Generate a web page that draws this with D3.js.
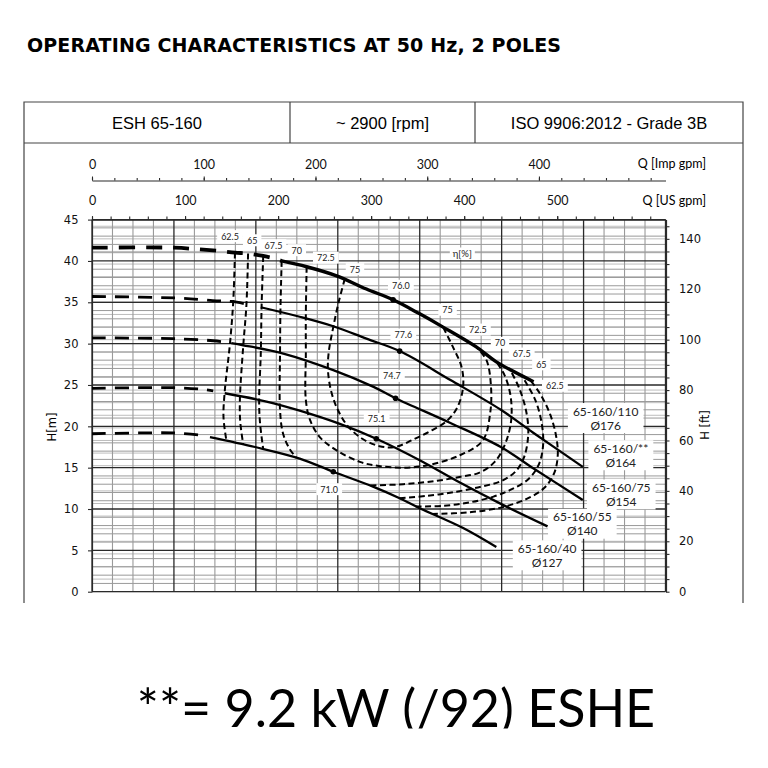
<!DOCTYPE html>
<html>
<head>
<meta charset="utf-8">
<script src="https://cdn.jsdelivr.net/npm/d3@7"></script>
<style>
  body { margin: 0; background: #fff; }
  svg { display: block; }
</style>
</head>
<body>
<script>
// H-Q curves, Q in m3/h, H in m
const hq176Dash = [[0, 41.6], [20, 41.6], [26.3, 41.4], [31.2, 41.2], [34.9, 41.0], [38.1, 40.9], [41.8, 40.6], [44.5, 40.3], [46.3, 40.0]];
const hq176 = [[46.3, 40.0], [52.4, 39.3], [59.7, 38.2], [67.0, 36.6], [73.5, 35.3], [80.0, 33.6], [85.7, 32.0], [93.8, 29.6], [98.7, 27.8], [107.8, 25.4]];
const hq164Dash = [[0, 35.7], [21.5, 35.5], [29.5, 35.2], [34.1, 35.1], [38.5, 34.7]];
const hq164 = [[41.2, 34.4], [50.7, 33.25], [58.9, 32.1], [67, 30.6], [75.1, 29.1], [87.5, 25.6], [99.8, 22.0], [107.8, 19.2], [119.8, 15.1]];
const hq154Dash = [[0, 30.7], [19.8, 30.6], [29.6, 30.35], [33.0, 30.15]];
const hq154 = [[34.0, 30.05], [36.9, 29.8], [46.7, 28.8], [58.9, 26.8], [68.6, 24.8], [74.1, 23.4], [87.5, 20.4], [99.8, 17.5], [107.8, 14.9], [119.8, 11.1]];
const hq140Dash = [[0, 24.6], [19.8, 24.67], [26.3, 24.5], [29.6, 24.3]];
const hq140 = [[32.4, 24.0], [42.6, 23.0], [50.7, 21.9], [60.5, 20.3], [69.4, 18.5], [80, 15.9], [89.8, 13.2], [100.3, 10.5], [111.2, 7.9]];
const hq127Dash = [[0, 19.1], [19.8, 19.2], [26.3, 18.95]];
const hq127 = [[28.8, 18.7], [39.8, 17.5], [50.7, 16.1], [58.9, 14.5], [68.6, 12.7], [75.1, 11.3], [80, 10.1], [90.6, 7.7], [98.7, 5.4]];

const impellers = ["65-160/110", "65-160/**", "65-160/75", "65-160/55", "65-160/40"];
const diameters = ["Ø176", "Ø164", "Ø154", "Ø140", "Ø127"];
const impellerLabelQ = [125.4, 129.1, 129.2, 119.7, 111.1];
const impellerLabelH = [21.85, 17.35, 12.6, 9.07, 5.25];

// iso-efficiency lines [%]
const isoLevels = ["62.5", "65", "67.5", "70", "72.5", "75"];
const iso625Left = [[34.9, 41.0], [34.5, 35.3], [33.7, 30.1], [32.4, 24.2], [32.1, 21.1], [32.8, 18.3]];
const iso65Left = [[38.1, 40.9], [37.7, 34.7], [36.9, 29.6], [36.1, 23.2], [36.2, 20.5], [36.9, 17.85]];
const iso675Left = [[41.8, 40.6], [41.4, 34.5], [41.2, 28.8], [40.8, 23.2], [41.0, 20.5], [41.8, 17.25]];
const iso70Left = [[46.3, 40.0], [46.0, 34.0], [45.9, 28.8], [45.9, 22.0], [46.6, 19.2], [48.2, 17.3], [49.9, 16.2]];
const iso70Right = [[68, 12.85], [76, 13.0], [84, 13.4], [90, 13.9], [94.6, 14.4], [98.3, 15.7], [100.8, 17.8], [102.3, 20.6], [102.2, 23.6], [100.7, 26.2], [98.7, 27.8]];
const iso675Right = [[75.1, 11.3], [82, 11.6], [89, 12.1], [95, 12.7], [100, 13.4], [103.5, 14.6], [105.5, 16.3], [106.5, 19.1], [106.0, 21.8], [104.3, 24.6], [102, 26.9]];
const iso65Right = [[79, 10.3], [86, 10.4], [92.2, 10.8], [98, 11.5], [102.5, 12.4], [106.5, 13.6], [109, 15.3], [110.1, 17.6], [109.8, 20.3], [108.2, 23.2], [104.8, 26.2]];
const iso625Right = [[83, 9.4], [92, 9.6], [100, 10.2], [106, 11.2], [110.3, 12.5], [112.8, 14.3], [113.7, 16.5], [113.3, 18.8], [111.8, 21.5], [109.3, 24], [106.8, 25.7]];
const iso725 = [[52.4, 39.3], [52.2, 33.5], [52.2, 28.8], [52.2, 23.2], [53.2, 20.8], [55.6, 18.7], [59.7, 17.1], [65.4, 15.7], [70, 15.2], [76, 15.0], [82, 15.3], [89.8, 16.5], [95.4, 18.3], [97.2, 21.6], [97.4, 24.8], [96.3, 28.0], [93.8, 29.6]];
const iso75 = [[61.7, 37.8], [60.2, 35], [58.9, 32.0], [57.8, 29], [57.6, 26.8], [58.4, 24.2], [60.0, 22.0], [62.5, 20.0], [66, 18.5], [70.2, 17.6], [74, 17.5], [78.4, 18.4], [82.5, 19.4], [86.5, 20.6], [89.2, 22.3], [90.6, 24.8], [90.2, 27.2], [88.1, 29.6], [85.7, 32.0]];

const isoLabelsLeftQ = [33.7, 39.1, 44.3, 50.0, 57.1, 64.2];
const isoLabelsLeftH = [43.0, 42.5, 41.9, 41.3, 40.4, 39.0];
const isoLabelsRightQ = [113.0, 109.7, 104.9, 99.6, 94.2, 86.8];
const isoLabelsRightH = [24.9, 27.5, 28.8, 30.1, 31.7, 34.1];

// best efficiency points
const bepValues = ["76.0", "77.6", "74.7", "75.1", "71.0"];
const bepQ = [73.5, 75.1, 74.1, 69.4, 58.9];
const bepH = [35.3, 29.1, 23.4, 18.5, 14.5];
const bepLabelQ = [75.4, 76.0, 73.2, 69.5, 57.9];
const bepLabelH = [37.0, 31.1, 26.1, 20.9, 12.4];

const headerTexts = ["ESH 65-160", "~ 2900 [rpm]", "ISO 9906:2012 - Grade 3B"];
const impTicks = [0, 100, 200, 300, 400];
const usTicks = [0, 100, 200, 300, 400, 500];
const mTicks = [0, 5, 10, 15, 20, 25, 30, 35, 40, 45];
const ftTicks = [0, 20, 40, 60, 80, 100, 120, 140];

const M3H_TO_USGPM = 4.402868;
const M3H_TO_IMPGPM = 3.666154;
const M_TO_FT = 1 / 0.3048;

const svg = d3.select("body").append("svg")
    .attr("width", 768)
    .attr("height", 768);

const x = d3.scaleLinear().domain([0, 140]).range([92, 665.5]);
const y = d3.scaleLinear().domain([0, 45]).range([591.7, 219.6]);
const xUs = d3.scaleLinear().domain([0, 140 * M3H_TO_USGPM]).range(x.range());
const xImp = d3.scaleLinear().domain([0, 140 * M3H_TO_IMPGPM]).range(x.range());
const yFt = d3.scaleLinear().domain([0, 45 * M_TO_FT]).range(y.range());

// title
svg.append("text")
    .attr("x", 27).attr("y", 52)
    .attr("textLength", 534)
    .attr("lengthAdjust", "spacing")
    .style("font-family", "'DejaVu Sans', Verdana, sans-serif")
    .style("font-weight", 700)
    .style("font-size", "19px")
    .text("OPERATING CHARACTERISTICS AT 50 Hz, 2 POLES");

// frame + header
const frame = svg.append("g").attr("fill", "none").attr("stroke", "#444").attr("stroke-width", 1.2);
frame.append("path").attr("d", "M24,603 V102 H743 V603");
frame.append("line").attr("x1", 24).attr("x2", 743).attr("y1", 143).attr("y2", 143);
frame.append("line").attr("x1", 290).attr("x2", 290).attr("y1", 102).attr("y2", 143);
frame.append("line").attr("x1", 475).attr("x2", 475).attr("y1", 102).attr("y2", 143);
const headerX = [157, 382.5, 609];
svg.append("g").selectAll("text")
    .data(headerTexts)
    .enter().append("text")
    .attr("x", (d, i) => headerX[i])
    .attr("y", 123)
    .attr("text-anchor", "middle")
    .attr("dominant-baseline", "central")
    .style("font-family", "'Liberation Sans', Arial, sans-serif")
    .style("font-size", "16.5px")
    .text(d => d);

// grid
const grid = svg.append("g");
grid.selectAll(".ft").data(d3.range(0, 146, 5)).enter().append("line")
    .attr("x1", x(0)).attr("x2", x(140))
    .attr("y1", d => yFt(d)).attr("y2", d => yFt(d))
    .attr("stroke", "#bdbdbd").attr("stroke-width", 1);
grid.selectAll(".hm").data(d3.range(0, 46, 1).filter(d => d % 5)).enter().append("line")
    .attr("x1", x(0)).attr("x2", x(140))
    .attr("y1", d => y(d)).attr("y2", d => y(d))
    .attr("stroke", "#9a9a9a").attr("stroke-width", 1);
grid.selectAll(".vq").data(d3.range(0, 141, 5).filter(d => d % 20)).enter().append("line")
    .attr("x1", d => x(d)).attr("x2", d => x(d))
    .attr("y1", y(0)).attr("y2", y(45))
    .attr("stroke", "#9a9a9a").attr("stroke-width", 1.1);
grid.selectAll(".hM").data(mTicks).enter().append("line")
    .attr("x1", x(0)).attr("x2", x(140))
    .attr("y1", d => y(d)).attr("y2", d => y(d))
    .attr("stroke", "#2a2a2a").attr("stroke-width", 1.3);
grid.selectAll(".vQ").data(d3.range(0, 141, 20)).enter().append("line")
    .attr("x1", d => x(d)).attr("x2", d => x(d))
    .attr("y1", y(0)).attr("y2", y(45))
    .attr("stroke", "#2a2a2a").attr("stroke-width", 1.3);

// axes
function styleAxis(g, font, size) {
    g.selectAll("path").attr("stroke", "#2a2a2a").attr("stroke-width", 1.2);
    g.selectAll("line").attr("stroke", "#2a2a2a").attr("stroke-width", 1.1);
    g.selectAll("text").style("font-family", font).style("font-size", size).attr("fill", "#111");
}
const topFont = "Lato, sans-serif";
const sideFont = "'DejaVu Sans', Verdana, sans-serif";

const impMinor = svg.append("g").attr("transform", "translate(0,180.5)")
    .call(d3.axisTop(xImp).tickValues(d3.range(0, 501, 20)).tickSize(2.5).tickSizeOuter(0).tickFormat(""));
styleAxis(impMinor, topFont, "12px");
const impMajor = svg.append("g").attr("transform", "translate(0,180.5)")
    .call(d3.axisTop(xImp).tickValues(impTicks).tickSize(4).tickSizeOuter(0).tickPadding(8));
impMajor.select(".domain").remove();
styleAxis(impMajor, topFont, "12.5px");

const usMinor = svg.append("g").attr("transform", `translate(0,${y(45)})`)
    .call(d3.axisTop(xUs).tickValues(d3.range(0, 601, 20)).tickSize(3).tickSizeOuter(0).tickFormat(""));
styleAxis(usMinor, topFont, "12px");
const usMajor = svg.append("g").attr("transform", `translate(0,${y(45)})`)
    .call(d3.axisTop(xUs).tickValues(usTicks).tickSize(3.5).tickSizeOuter(0).tickPadding(11));
usMajor.select(".domain").remove();
styleAxis(usMajor, topFont, "12.5px");

svg.append("text").attr("x", 706).attr("y", 168.3).attr("text-anchor", "end")
    .style("font-family", topFont).style("font-size", "12.5px").text("Q [Imp gpm]");
svg.append("text").attr("x", 706).attr("y", 205).attr("text-anchor", "end")
    .style("font-family", topFont).style("font-size", "12.5px").text("Q [US gpm]");

const leftAxis = svg.append("g").attr("transform", `translate(${x(0)},0)`)
    .call(d3.axisLeft(y).tickValues(mTicks).tickSize(4).tickSizeOuter(0).tickPadding(9.5));
styleAxis(leftAxis, sideFont, "11.5px");

const rightAxis = svg.append("g").attr("transform", `translate(${x(140) + 0.5},0)`)
    .call(d3.axisRight(yFt).tickValues(d3.range(0, 146, 5)).tickSize(3.5).tickSizeOuter(0).tickPadding(9.5)
        .tickFormat(d => ftTicks.includes(d) ? d : ""));
styleAxis(rightAxis, sideFont, "11.5px");

svg.append("text")
    .attr("transform", "translate(56,427) rotate(-90)")
    .attr("text-anchor", "middle")
    .style("font-family", sideFont).style("font-size", "11.5px")
    .text("H[m]");
svg.append("text")
    .attr("transform", "translate(709,425) rotate(-90)")
    .attr("text-anchor", "middle")
    .style("font-family", sideFont).style("font-size", "11.5px")
    .text("H [ft]");

// white label boxes
function boxLabel(g, cx, cy, lines, size, lineGap, padX, padY) {
    const grp = g.append("g");
    const rect = grp.append("rect").attr("fill", "#fff");
    const texts = lines.map((t, i) => grp.append("text")
        .attr("x", cx).attr("y", cy + i * lineGap)
        .attr("text-anchor", "middle")
        .attr("dominant-baseline", "central")
        .style("font-family", "Lato, sans-serif")
        .style("font-size", size)
        .attr("fill", "#222")
        .text(t));
    const w = d3.max(texts, t => t.node().getComputedTextLength());
    rect.attr("x", cx - w / 2 - padX).attr("width", w + 2 * padX)
        .attr("y", cy - lineGap / 2 - padY)
        .attr("height", lineGap * lines.length + 2 * padY);
    if (lines.length === 1) {
        rect.attr("y", cy - 5.5 - padY).attr("height", 11 + 2 * padY);
    }
}
const labels = svg.append("g");
isoLevels.forEach((lv, i) => {
    boxLabel(labels, x(isoLabelsLeftQ[i]), y(isoLabelsLeftH[i]), [lv], "9px", 11, 4, 0.5);
    boxLabel(labels, x(isoLabelsRightQ[i]), y(isoLabelsRightH[i]), [lv], "9px", 11, 4, 0.5);
});
bepValues.forEach((v, i) => {
    boxLabel(labels, x(bepLabelQ[i]), y(bepLabelH[i]), [v], "9px", 11, 4, 0.5);
});
boxLabel(labels, x(90.4), y(40.9), ["η[%]"], "9.5px", 11, 3, 0.5);
impellers.forEach((name, i) => {
    boxLabel(labels, x(impellerLabelQ[i]), y(impellerLabelH[i]), [name, diameters[i]], "12px", 14, 5, 1);
});

// curves
const line = d3.line()
    .x(d => x(d[0]))
    .y(d => y(d[1]))
    .curve(d3.curveCatmullRom.alpha(0.5));

const curves = svg.append("g").attr("fill", "none").attr("stroke", "#000").attr("stroke-linecap", "butt");

[iso625Left, iso65Left, iso675Left, iso70Left, iso70Right, iso675Right, iso65Right, iso625Right, iso725, iso75]
    .forEach(pts => {
        curves.append("path").attr("d", line(pts))
            .attr("stroke-width", 2).attr("stroke-dasharray", "6,3.5");
    });

curves.append("path").attr("d", line(hq176Dash)).attr("stroke-width", 3.8).attr("stroke-dasharray", "16,11");
[hq164Dash, hq154Dash, hq140Dash, hq127Dash].forEach(pts => {
    curves.append("path").attr("d", line(pts)).attr("stroke-width", 2.8).attr("stroke-dasharray", "14,9");
});
curves.append("path").attr("d", line(hq176)).attr("stroke-width", 3.4);
[hq164, hq154, hq140, hq127].forEach(pts => {
    curves.append("path").attr("d", line(pts)).attr("stroke-width", 2.3);
});

svg.append("g").selectAll("circle")
    .data(bepQ)
    .enter().append("circle")
    .attr("cx", d => x(d))
    .attr("cy", (d, i) => y(bepH[i]))
    .attr("r", 2.8)
    .attr("fill", "#000");

// footnote (bottom clipped as in the source image)
svg.append("text")
    .attr("x", 396).attr("y", 727)
    .attr("text-anchor", "middle")
    .style("font-family", "Lato, sans-serif")
    .style("font-size", "52px")
    .text("**= 9.2 kW (/92) ESHE");
svg.append("rect").attr("x", 0).attr("y", 728.5).attr("width", 768).attr("height", 40).attr("fill", "#fff");
</script>
</body>
</html>
